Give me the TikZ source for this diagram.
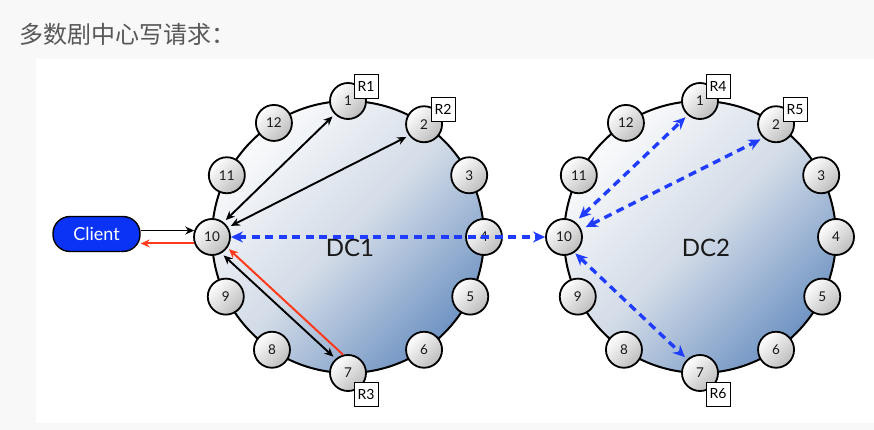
\documentclass[tikz,border=0pt]{standalone}
\usepackage{fontspec}
\setmainfont{Lato}
\newfontfamily\cjkfont{Noto Sans CJK SC}
\usetikzlibrary{arrows.meta}

\definecolor{pagebg}{HTML}{F8F8F8}
\definecolor{titlegray}{HTML}{585858}
\definecolor{clientblue}{HTML}{0A33F5}
\definecolor{dashblue}{HTML}{1F3CFF}
\definecolor{replyred}{HTML}{FF3A1A}
\definecolor{dclight}{HTML}{FAFBFC}
\definecolor{dcmid}{HTML}{D2DBE7}
\definecolor{dcdark}{HTML}{7094C3}
\definecolor{nodelight}{HTML}{FFFFFF}
\definecolor{nodedark}{HTML}{BDBDBD}

\begin{document}
\begin{tikzpicture}[x=1pt,y=-1pt,
  ringnode/.style={circle, draw=black, line width=1.8pt, minimum size=36pt,
    inner sep=0pt, top color=nodelight, bottom color=nodedark, shading angle=45,
    font=\fontsize{13.5}{15}\selectfont, text=black!90},
  tag/.style={rectangle, draw=black, line width=0.8pt, fill=white,
    minimum size=24pt, inner sep=1pt, font=\fontsize{14}{16}\selectfont},
  ring/.style={draw=black, line width=2pt},
  dcfill/.style={top color=dclight, bottom color=dcdark, middle color=dcmid, shading angle=45},
  client/.style={rectangle, rounded corners=17pt, minimum width=87pt, minimum height=35pt,
    fill=clientblue, draw=black, line width=1.4pt, text=white,
    font=\fontsize{18}{20}\selectfont},
  dclabel/.style={font=\fontsize{24}{28}\selectfont, text=black!90},
  blk/.style={draw=black, line width=1.9pt},
  blkboth/.style={blk, {Stealth[length=9pt,width=8pt]}-{Stealth[length=9pt,width=8pt]},
    shorten <=3pt, shorten >=3pt},
  replyline/.style={draw=replyred, line width=2pt, -{Stealth[length=9pt,width=8pt]}},
  bluedash/.style={draw=dashblue, line width=3.4pt, dash pattern=on 8pt off 5.5pt,
    {Stealth[length=12pt,width=11pt]}-{Stealth[length=12pt,width=11pt]}}
]
\useasboundingbox (0,0) rectangle (874,430);
\fill[pagebg] (0,0) rectangle (874,430);
\fill[white] (36,59) rectangle (874,423);

% heading
\node[anchor=west, inner sep=0pt, font=\cjkfont\fontsize{24}{28}\selectfont,
  text=titlegray] (title) at (19,34) {多数剧中心写请求：};

% the two data-centre rings
\shade[dcfill] (348,237) circle[radius=136pt];
\draw[ring] (348,237) circle[radius=136pt];
\shade[dcfill] (700,237) circle[radius=136pt];
\draw[ring] (700,237) circle[radius=136pt];

\foreach \k/\a in {1/0,2/34,3/63,4/90,5/116,6/146,7/180,8/214,9/244,10/270,11/297,12/327} {
  \node[ringnode] (a\k) at ({348+136*sin(\a)},{237-136*cos(\a)}) {\k};
  \node[ringnode] (b\k) at ({700+136*sin(\a)},{237-136*cos(\a)}) {\k};
}

\node[dclabel] (dc1) at (350,248) {DC1};
\node[dclabel] (dc2) at (706,248) {DC2};

% replica tags
\node[tag] (r1) at ([shift={(18pt,15pt)}]a1.center) {R1};
\node[tag] (r2) at ([shift={(19pt,15pt)}]a2.center) {R2};
\node[tag] (r3) at ([shift={(18pt,-21pt)}]a7.center) {R3};
\node[tag] (r4) at ([shift={(18pt,15pt)}]b1.center) {R4};
\node[tag] (r5) at ([shift={(19pt,15pt)}]b2.center) {R5};
\node[tag] (r6) at ([shift={(18pt,-21pt)}]b7.center) {R6};

% client
\node[client] (client) at (96.5,234) {Client};
\draw[blk, -{Stealth[length=9pt,width=8pt]}] (client.east |- a10.160) -- (a10.160);
\draw[replyline] (a10.200) -- (client.east |- a10.200);

% local replicas in DC1
\draw[blkboth] (a10.52) -- (a1.225);
\draw[blkboth] (a10.31) -- (a2.217);
\draw[blkboth] (a10.-60) -- (a7.131);
\draw[replyline, shorten >=2pt] (a7.105) -- (a10.-35);

% cross-DC forwarding and DC2 replicas
\draw[bluedash] (a10.east) -- (b10.west);
\draw[bluedash, shorten <=5pt, shorten >=3pt] (b10.53) -- (b1.229);
\draw[bluedash, shorten <=5pt, shorten >=3pt] (b10.24) -- (b2.227);
\draw[bluedash, shorten <=1pt, shorten >=3pt] (b10.-56) -- (b7.133);
\end{tikzpicture}
\end{document}
